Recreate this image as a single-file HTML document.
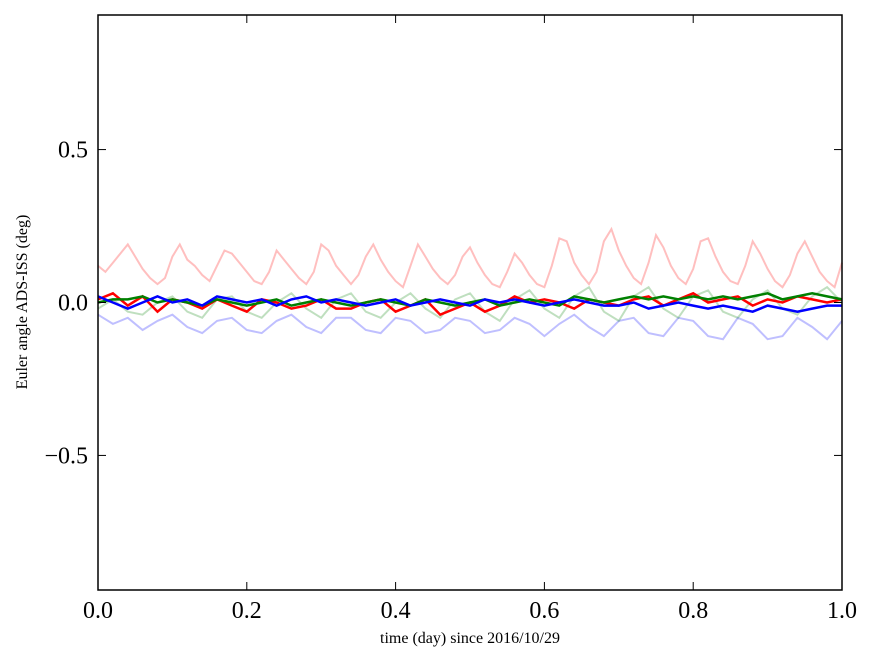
<!DOCTYPE html>
<html><head><meta charset="utf-8"><style>
body{margin:0;background:#fff;}
svg text{font-family:"Liberation Serif",serif;}
</style></head><body>
<svg id="chart" width="875" height="662" xmlns="http://www.w3.org/2000/svg">
<rect width="875" height="662" fill="#fff"/>
<g id="series"></g>
<rect x="98" y="15" width="744" height="575" fill="none" stroke="#000" stroke-width="1.5"/>
<g id="ticks"></g>
<text x="470" y="643" font-size="16" text-anchor="middle">time (day) since 2016/10/29</text>
<text x="27" y="302" font-size="16" text-anchor="middle" transform="rotate(-90 27 302)">Euler angle ADS-ISS (deg)</text>
</svg>
<script>
const xTicks=[0,0.2,0.4,0.6,0.8,1.0];
const xTickLabels=["0.0","0.2","0.4","0.6","0.8","1.0"];
const yTicks=[-0.5,0,0.5];
const yTickLabels=["\u22120.5","0.0","0.5"];
const pinkFaint=[0.12,0.10,0.13,0.16,0.19,0.15,0.11,0.08,0.06,0.08,0.15,0.19,0.14,0.12,0.09,0.07,0.12,0.17,0.16,0.13,0.10,0.07,0.06,0.10,0.17,0.14,0.11,0.08,0.06,0.10,0.19,0.17,0.12,0.09,0.06,0.09,0.15,0.19,0.14,0.10,0.07,0.05,0.12,0.19,0.15,0.11,0.08,0.06,0.09,0.15,0.18,0.13,0.09,0.06,0.05,0.10,0.16,0.13,0.09,0.06,0.05,0.12,0.21,0.20,0.13,0.09,0.06,0.10,0.20,0.24,0.17,0.12,0.08,0.06,0.13,0.22,0.18,0.12,0.08,0.06,0.11,0.20,0.21,0.15,0.10,0.07,0.06,0.12,0.20,0.16,0.11,0.07,0.05,0.09,0.16,0.20,0.15,0.10,0.07,0.05,0.13];
const blueFaint=[-0.04,-0.07,-0.05,-0.09,-0.06,-0.04,-0.08,-0.10,-0.06,-0.05,-0.09,-0.10,-0.06,-0.04,-0.08,-0.10,-0.05,-0.05,-0.09,-0.10,-0.05,-0.06,-0.10,-0.09,-0.05,-0.06,-0.10,-0.09,-0.05,-0.07,-0.11,-0.07,-0.04,-0.08,-0.11,-0.06,-0.05,-0.10,-0.11,-0.05,-0.06,-0.11,-0.12,-0.05,-0.07,-0.12,-0.11,-0.05,-0.08,-0.12,-0.06];
const greenFaint=[-0.02,0.01,-0.03,-0.04,0.00,0.02,-0.03,-0.05,0.01,0.02,-0.03,-0.05,0.00,0.03,-0.02,-0.05,0.01,0.03,-0.03,-0.05,0.00,0.03,-0.02,-0.05,0.01,0.03,-0.03,-0.06,0.01,0.04,-0.02,-0.05,0.02,0.05,-0.03,-0.06,0.02,0.05,-0.02,-0.05,0.02,0.04,-0.03,-0.05,0.01,0.04,-0.02,-0.04,0.02,0.05,0.00];
const redBold=[0.01,0.03,-0.01,0.02,-0.03,0.01,0.00,-0.02,0.01,-0.01,-0.03,0.01,0.00,-0.02,-0.01,0.01,-0.02,-0.02,0.00,0.01,-0.03,-0.01,0.01,-0.04,-0.02,0.00,-0.03,-0.01,0.02,0.00,0.01,0.00,-0.02,0.01,0.00,-0.01,0.01,0.02,-0.01,0.01,0.03,0.00,0.01,0.02,-0.01,0.01,0.00,0.02,0.01,0.00,0.01];
const greenBold=[0.00,0.01,0.01,0.02,0.00,0.01,0.00,-0.01,0.01,0.00,-0.01,0.00,0.01,-0.01,0.00,0.01,0.00,-0.01,0.00,0.01,0.00,-0.01,0.01,0.00,-0.01,0.00,0.01,-0.01,0.00,0.01,0.00,-0.01,0.02,0.01,0.00,0.01,0.02,0.01,0.02,0.01,0.02,0.01,0.02,0.01,0.02,0.03,0.01,0.02,0.03,0.02,0.01];
const blueBold=[0.02,0.00,-0.02,0.00,0.02,0.00,0.01,-0.01,0.02,0.01,0.00,0.01,-0.01,0.01,0.02,0.00,0.01,0.00,-0.01,0.00,0.01,-0.01,0.00,0.01,0.00,-0.01,0.01,0.00,0.01,0.00,-0.01,0.00,0.01,0.00,-0.01,-0.01,0.00,-0.02,-0.01,0.00,-0.01,-0.02,-0.01,-0.02,-0.03,-0.01,-0.02,-0.03,-0.02,-0.01,-0.01];

const X0=98,X1=842,Y0=15,Y1=590,YMIN=-0.94,YMAX=0.94;
function xs(v){return X0+(v-0)/(1-0)*(X1-X0);}
function ys(v){return Y1-(v-YMIN)/(YMAX-YMIN)*(Y1-Y0);}
const NS="http://www.w3.org/2000/svg";
const sg=document.getElementById('series');
function drawLine(arr,color,width,opacity,name){
  const n=arr.length;
  const pts=arr.map((v,i)=>xs(i/(n-1)).toFixed(1)+","+ys(v).toFixed(1)).join(" ");
  const p=document.createElementNS(NS,'polyline');
  p.setAttribute('points',pts);
  p.setAttribute('fill','none');
  p.setAttribute('stroke',color);
  p.setAttribute('stroke-width',width);
  p.setAttribute('stroke-opacity',opacity);
  
  
  sg.appendChild(p);
}
drawLine(pinkFaint,'#ff0000',2,0.25,'faint-red-series');
drawLine(blueFaint,'#0000ff',2,0.25,'faint-blue-series');
drawLine(greenFaint,'#008000',2,0.25,'faint-green-series');
drawLine(redBold,'#ff0000',2.5,1,'red-series');
drawLine(greenBold,'#008000',2.5,1,'green-series');
drawLine(blueBold,'#0000ff',2.5,1,'blue-series');

const tg=document.getElementById('ticks');
xTicks.forEach((t,i)=>{
  const x=xs(t);
  [[Y1,Y1-8],[Y0,Y0+8]].forEach(([a,b])=>{
    const l=document.createElementNS(NS,'line');
    l.setAttribute('x1',x);l.setAttribute('x2',x);l.setAttribute('y1',a);l.setAttribute('y2',b);
    l.setAttribute('stroke','#000');
    
    
    tg.appendChild(l);
  });
  const tx=document.createElementNS(NS,'text');
  tx.setAttribute('x',x);tx.setAttribute('y',Y1+28);
  tx.setAttribute('font-size','24');tx.setAttribute('text-anchor','middle');
  tx.textContent=xTickLabels[i];
  
  
  tg.appendChild(tx);
});
yTicks.forEach((t,i)=>{
  const y=ys(t);
  [[X0,X0+8],[X1,X1-8]].forEach(([a,b])=>{
    const l=document.createElementNS(NS,'line');
    l.setAttribute('y1',y);l.setAttribute('y2',y);l.setAttribute('x1',a);l.setAttribute('x2',b);
    l.setAttribute('stroke','#000');
    
    
    tg.appendChild(l);
  });
  const tx=document.createElementNS(NS,'text');
  tx.setAttribute('x',X0-10);tx.setAttribute('y',y+8);
  tx.setAttribute('font-size','24');tx.setAttribute('text-anchor','end');
  tx.textContent=yTickLabels[i];
  
  
  tg.appendChild(tx);
});
</script>
</body></html>
